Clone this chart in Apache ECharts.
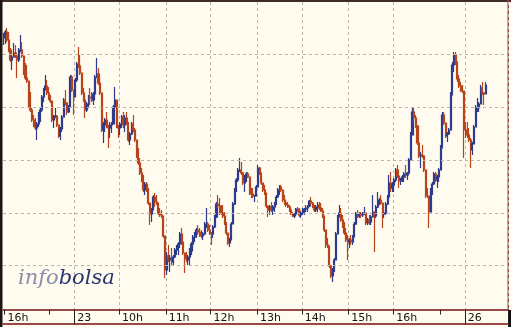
<!DOCTYPE html>
<html>
<head>
<meta charset="utf-8">
<script src="https://cdn.jsdelivr.net/npm/echarts@6/dist/echarts.min.js"></script>
<style>
html,body{margin:0;padding:0;background:#fffbee;}
#c{width:511px;height:327px;}
</style>
</head>
<body>
<div id="c"></div>
<script>
// ---- data (price units) ----
const slotCount = 304;
const categories = Array.from({length: slotCount}, (_, i) => String(i));
const tickLabels = ['16h','23','10h','11h','12h','13h','14h','15h','16h','26'];
const tickLabelIndex = [1,43,70,98,125,153,180,208,235,278];
const minorTickIndex = [1,28,70,98,125,153,180,208,235,263];
const dayTickIndex = [43,278];
const gridLevels = [266,213,160,107,55];
const firstOpen = 282;

const highs = [
287,290,292,288,272,265,277,275,262,272,
285,278,262,257,255,232,228,212,205,202,
198,208,212,225,232,245,240,233,225,212,
205,212,205,195,193,205,222,230,218,215,
245,245,225,242,258,273,265,238,232,225,
218,225,232,228,228,245,262,252,242,212,
198,202,208,195,198,198,215,233,205,195,
198,205,208,205,208,198,188,198,205,192,
178,172,162,152,145,138,138,132,108,112,
125,127,125,112,112,110,95,75,68,75,
65,72,65,72,75,78,88,92,75,65,
68,65,72,78,85,88,92,95,92,90,
88,98,112,98,95,88,95,105,118,125,
122,115,115,108,98,85,82,98,118,132,
142,152,162,158,148,145,148,148,135,132,
132,125,135,155,153,145,135,135,122,112,
115,118,115,118,125,132,135,135,128,125,
120,118,115,112,108,107,112,113,112,108,
112,112,115,115,120,123,118,115,115,118,
118,117,112,102,85,82,68,55,52,62,
88,105,115,112,105,98,92,85,82,85,
85,98,108,110,108,108,108,113,105,102,
105,105,125,108,115,128,122,125,112,108,
118,125,145,148,138,142,152,155,142,142,
145,148,155,148,162,188,212,212,205,195,
178,168,175,165,145,132,112,132,138,148,
148,145,152,175,208,208,192,188,192,228,
258,268,268,255,245,238,235,198,198,198,
192,182,178,195,215,222,218,235,238,228,238];

const lows = [
275,276,278,268,258,250,265,262,242,258,
268,262,245,240,237,212,208,198,193,190,
180,193,198,208,218,232,225,220,217,198,
192,202,193,182,180,188,205,215,205,207,
225,228,205,228,238,252,245,225,218,202,
208,212,215,218,215,228,242,235,225,188,
177,188,192,172,182,187,205,218,192,182,
185,192,192,188,195,178,175,185,188,178,
162,155,145,138,128,125,128,115,95,98,
112,113,115,105,103,102,82,42,45,58,
48,55,55,62,65,65,72,75,65,47,
58,55,55,65,75,78,82,85,83,82,
80,85,92,88,85,75,82,92,102,112,
105,105,102,95,85,75,73,85,105,115,
128,138,148,145,135,128,138,142,125,122,
122,118,125,138,145,135,128,125,112,103,
105,108,105,108,115,122,125,128,118,115,
113,112,108,105,103,102,105,108,103,102,
105,105,108,108,113,115,112,108,108,108,
110,108,102,88,72,72,52,42,38,48,
72,92,105,98,92,85,78,60,72,75,
75,85,95,102,102,102,103,105,95,95,
95,95,105,68,102,112,115,115,92,102,
105,115,132,128,128,128,138,142,132,135,
138,138,142,140,148,165,192,198,192,175,
162,152,162,148,122,122,92,118,125,135,
138,132,138,158,188,195,182,178,185,195,
238,248,255,238,232,228,227,162,182,182,
178,152,165,182,198,208,208,218,225,215,228];

const closes = [
285,288,280,270,260,263,267,264,260,270,
270,264,247,242,239,214,210,200,195,192,
196,206,210,223,230,234,227,222,219,200,
203,204,195,184,191,203,220,217,208,213,
243,230,223,240,256,254,247,227,220,210,
216,223,222,220,226,243,246,237,227,190,
195,200,194,192,195,196,213,220,194,192,
196,203,195,202,197,180,186,196,190,180,
164,157,147,140,130,136,130,117,106,110,
123,118,117,107,105,104,84,50,64,60,
62,58,63,70,73,76,86,78,67,61,
60,63,69,76,83,86,90,88,86,84,
86,96,96,90,87,86,93,103,116,114,
108,107,104,97,87,77,80,96,116,130,
140,150,150,147,137,143,146,143,127,126,
124,124,133,152,147,137,130,127,114,110,
113,110,113,116,123,130,133,130,120,117,
115,113,110,106,104,106,111,109,105,107,
109,111,112,114,119,117,113,110,113,115,
112,109,104,90,75,74,54,44,50,60,
86,103,107,100,94,87,80,78,80,78,
83,96,106,104,106,105,107,107,97,100,
98,103,108,104,113,118,120,117,106,107,
116,123,137,132,135,140,150,144,139,140,
143,146,145,147,160,185,208,202,194,177,
164,165,164,150,125,124,108,130,136,146,
140,143,150,172,205,197,184,186,190,225,
255,265,258,241,234,230,229,190,188,185,
180,170,176,193,212,212,216,232,227,226,235];

// ---- build candles: each bar opens at the previous close ----
const candles = closes.map((c, i) => {
  const o = i === 0 ? firstOpen : closes[i - 1];
  return [o, c, lows[i], highs[i]];
});

const UP = '#2e3a8c';
const DOWN = '#b8441c';
const AXIS = '#9a4848';
const GRID = '#bdb6a8';

const labelMap = {};
tickLabelIndex.forEach((idx, k) => { labelMap[idx] = tickLabels[k]; });
const gridVIndex = tickLabelIndex.slice(1);

const chart = echarts.init(document.getElementById('c'), null, {renderer: 'canvas'});
chart.setOption({
  animation: false,
  backgroundColor: '#fffbee',
  grid: {left: 3, right: 3, top: 2, bottom: 17.5, containLabel: false},
  xAxis: [
    {
      type: 'category', data: categories, boundaryGap: true, position: 'bottom',
      axisLine: {show: true, lineStyle: {color: AXIS, width: 2}},
      axisTick: {show: true, length: 5, lineStyle: {color: '#222', width: 1},
        interval: (i) => minorTickIndex.indexOf(i) >= 0},
      axisLabel: {show: true, interval: (i) => labelMap[i] !== undefined,
        formatter: (v, i) => labelMap[i] || '', align: 'left', padding: [0, 0, 0, 2],
        margin: 3, fontSize: 11, fontFamily: 'DejaVu Sans', color: '#151515'},
      splitLine: {show: true, interval: (i) => gridVIndex.indexOf(i) >= 0,
        lineStyle: {color: GRID, type: [3, 3], width: 1}}
    },
    {
      type: 'category', data: categories, boundaryGap: true, position: 'bottom',
      axisLine: {show: false},
      axisTick: {show: true, length: 15, lineStyle: {color: '#222', width: 1},
        interval: (i) => dayTickIndex.indexOf(i) >= 0},
      axisLabel: {show: false}, splitLine: {show: false}
    },
    {
      type: 'category', data: categories, boundaryGap: true, position: 'bottom', offset: 14.5,
      axisLine: {show: true, lineStyle: {color: AXIS, width: 2}},
      axisTick: {show: false}, axisLabel: {show: false}, splitLine: {show: false}
    }
  ],
  yAxis: {
    type: 'value', min: 10.5, max: 318, scale: true,
    axisLine: {show: false}, axisTick: {show: false}, axisLabel: {show: false},
    splitLine: {show: false}
  },
  series: [{
    type: 'candlestick', xAxisIndex: 0, data: candles, barWidth: 1.6,
    itemStyle: {color: UP, color0: DOWN, borderColor: UP, borderColor0: DOWN, borderWidth: 1.2},
    markLine: {
      silent: true, symbol: 'none', label: {show: false}, animation: false,
      lineStyle: {color: GRID, type: [3, 3], width: 1},
      emphasis: {disabled: true},
      data: gridLevels.map(v => ({yAxis: v}))
    }
  }],
  graphic: [
    {type: 'rect', shape: {x: 0, y: 0, width: 511, height: 2}, style: {fill: '#3e2a28'}, silent: true},
    {type: 'rect', shape: {x: 0, y: 0, width: 2.5, height: 327}, style: {fill: '#1e1414'}, silent: true},
    {type: 'rect', shape: {x: 507.5, y: 0, width: 1.5, height: 310}, style: {fill: AXIS}, silent: true},
    {type: 'rect', shape: {x: 508, y: 310, width: 3, height: 17}, style: {fill: '#111'}, silent: true},
    {type: 'text', left: 18, top: 268, silent: true, z: 10,
      style: {text: '{a|info}{b|bolsa}',
        rich: {
          a: {fontFamily: 'DejaVu Serif', fontStyle: 'italic', fontSize: 21, fill: '#8a8cab'},
          b: {fontFamily: 'DejaVu Serif', fontStyle: 'italic', fontSize: 21, fill: '#28366e'}
        }}}
  ]
});
</script>
</body>
</html>
